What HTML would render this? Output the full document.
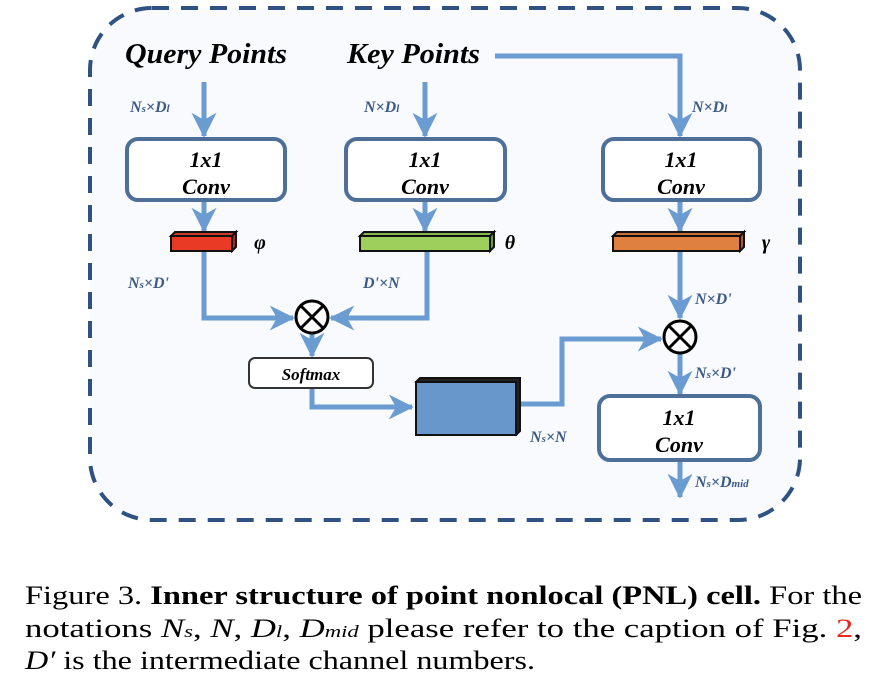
<!DOCTYPE html>
<html><head><meta charset="utf-8"><style>html,body{margin:0;padding:0;background:#fff}svg{display:block}
text{font-family:"Liberation Serif",serif}
.b{font-style:italic;font-weight:bold}
</style></head>
<body>
<svg width="886" height="694" viewBox="0 0 886 694" xmlns="http://www.w3.org/2000/svg">
<defs>
<marker id="a" viewBox="0 0 14 14" refX="13" refY="7" markerWidth="5" markerHeight="5" markerUnits="strokeWidth" orient="auto">
<path d="M0,0 L14,7 L0,14 L4,7 Z" fill="#6a9bd1"/>
</marker>
</defs>
<rect x="90" y="8" width="710" height="512" rx="62" fill="#f8fafd" stroke="#2f5282" stroke-width="4" stroke-dasharray="17 12"/>
<text class="b" x="125" y="63" font-size="28" textLength="162" lengthAdjust="spacingAndGlyphs" fill="#000">Query Points</text>
<text class="b" x="347" y="63" font-size="28" textLength="133" lengthAdjust="spacingAndGlyphs" fill="#000">Key Points</text>
<g stroke="#6a9bd1" stroke-width="5" fill="none">
<path d="M204 82 V136" marker-end="url(#a)"/>
<path d="M425 82 V136" marker-end="url(#a)"/>
<path d="M495 56 H680 V136" marker-end="url(#a)"/>
<path d="M204 202 V231" marker-end="url(#a)"/>
<path d="M425 202 V231" marker-end="url(#a)"/>
<path d="M680 202 V231" marker-end="url(#a)"/>
<path d="M204 250 V318 H293" marker-end="url(#a)"/>
<path d="M427 250 V318 H331" marker-end="url(#a)"/>
<path d="M312 334 V356" marker-end="url(#a)"/>
<path d="M312 389 V407 H412" marker-end="url(#a)"/>
<path d="M518 404 H562 V339 H661" marker-end="url(#a)"/>
<path d="M680 250 V318" marker-end="url(#a)"/>
<path d="M680 354 V394" marker-end="url(#a)"/>
<path d="M680 462 V497" marker-end="url(#a)"/>
</g>
<g fill="#fff" stroke="#4e6f98" stroke-width="4">
<rect x="127" y="139" width="158" height="61" rx="11"/>
<rect x="346" y="139" width="159" height="61" rx="11"/>
<rect x="603" y="139" width="157" height="61" rx="11"/>
<rect x="599" y="396" width="161" height="64" rx="11"/>
</g>
<rect x="249" y="358" width="124" height="30" rx="6" fill="#fff" stroke="#333" stroke-width="2"/>
<g class="b" fill="#000" text-anchor="middle">
<text class="b" x="206" y="167" font-size="22">1x1</text><text class="b" x="206" y="194" font-size="22">Conv</text>
<text class="b" x="425" y="167" font-size="22">1x1</text><text class="b" x="425" y="194" font-size="22">Conv</text>
<text class="b" x="681" y="167" font-size="22">1x1</text><text class="b" x="681" y="194" font-size="22">Conv</text>
<text class="b" x="679" y="425" font-size="22">1x1</text><text class="b" x="679" y="452" font-size="22">Conv</text>
<text class="b" x="311" y="380" font-size="17">Softmax</text>
<text class="b" x="260" y="249" font-size="20">φ</text>
<text class="b" x="510" y="249" font-size="20">θ</text>
<text class="b" x="766" y="249" font-size="20">γ</text>
</g>
<g stroke="#111" stroke-width="2">
<path d="M171 236 L175 232 L236 232 L232 236 Z" fill="#c93a2a"/>
<path d="M232 236 L236 232 L236 247 L232 251 Z" fill="#a02a1f"/>
<rect x="171" y="236" width="61" height="15" fill="#e83a24"/>
<path d="M360 236 L364 232 L494 232 L490 236 Z" fill="#86b554"/>
<path d="M490 236 L494 232 L494 247 L490 251 Z" fill="#6a9a40"/>
<rect x="360" y="236" width="130" height="15" fill="#9ecf5c"/>
<path d="M613 236 L617 232 L744 232 L740 236 Z" fill="#c8703a"/>
<path d="M740 236 L744 232 L744 247 L740 251 Z" fill="#a85a2a"/>
<rect x="613" y="236" width="127" height="15" fill="#e08040"/>
<path d="M416 382 L420 378 L520 378 L520 431 L516 435 Z" fill="#222"/>
<rect x="416" y="382" width="100" height="53" fill="#6897cb"/>
</g>
<g stroke="#000" stroke-width="3" fill="#fff">
<circle cx="312" cy="317" r="16"/>
<path d="M301 306 L323 328 M323 306 L301 328" fill="none"/>
<circle cx="680" cy="337" r="16"/>
<path d="M669 326 L691 348 M691 326 L669 348" fill="none"/>
</g>
<g class="b" fill="#3b5a86" font-size="16">
<text class="b" x="130" y="112">N<tspan font-size="11">s</tspan>×D<tspan font-size="11">l</tspan></text>
<text class="b" x="364" y="112">N×D<tspan font-size="11">l</tspan></text>
<text class="b" x="692" y="112">N×D<tspan font-size="11">l</tspan></text>
<text class="b" x="128" y="288">N<tspan font-size="11">s</tspan>×D'</text>
<text class="b" x="363" y="288">D'×N</text>
<text class="b" x="695" y="304">N×D'</text>
<text class="b" x="695" y="378">N<tspan font-size="11">s</tspan>×D'</text>
<text class="b" x="530" y="442">N<tspan font-size="11">s</tspan>×N</text>
<text class="b" x="695" y="487">N<tspan font-size="11">s</tspan>×D<tspan font-size="11">mid</tspan></text>
</g>
<g font-size="26" fill="#000">
<text x="25" y="604" textLength="837" lengthAdjust="spacingAndGlyphs">Figure 3. <tspan font-weight="bold">Inner structure of point nonlocal (PNL) cell.</tspan> For the</text>
<text x="25" y="637" textLength="837" lengthAdjust="spacingAndGlyphs">notations <tspan font-style="italic">N<tspan font-size="17">s</tspan></tspan>, <tspan font-style="italic">N</tspan>, <tspan font-style="italic">D<tspan font-size="17">l</tspan></tspan>, <tspan font-style="italic">D<tspan font-size="17">mid</tspan></tspan> please refer to the caption of Fig. <tspan fill="#e8281e">2</tspan>,</text>
<text x="25" y="669" textLength="510" lengthAdjust="spacingAndGlyphs"><tspan font-style="italic">D′</tspan> is the intermediate channel numbers.</text>
</g>
</svg>
</body></html>
